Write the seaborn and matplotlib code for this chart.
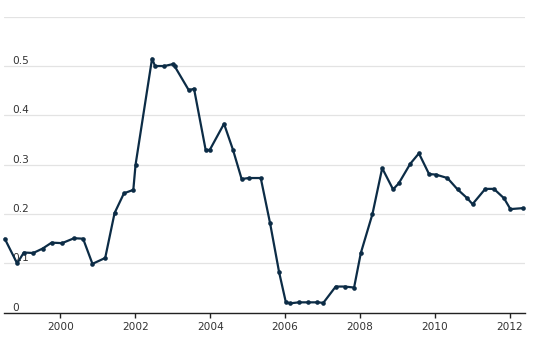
import matplotlib
matplotlib.use("Agg")
import matplotlib.pyplot as plt
import seaborn as sns
import pandas as pd

# Data (decimal year, value)
years = [1998.52, 1998.85, 1999.03, 1999.28, 1999.53, 1999.77, 2000.05, 2000.37,
         2000.61, 2000.86, 2001.20, 2001.45, 2001.70, 2001.95, 2002.01, 2002.45,
         2002.53, 2002.78, 2003.01, 2003.05, 2003.43, 2003.57, 2003.88, 2003.99,
         2004.37, 2004.61, 2004.84, 2005.03, 2005.35, 2005.60, 2005.84, 2006.02,
         2006.13, 2006.37, 2006.61, 2006.86, 2007.02, 2007.35, 2007.59, 2007.84,
         2008.02, 2008.33, 2008.59, 2008.88, 2009.03, 2009.34, 2009.57, 2009.84,
         2010.02, 2010.33, 2010.60, 2010.86, 2011.00, 2011.34, 2011.57, 2011.84,
         2012.01, 2012.35]
values = [0.150, 0.100, 0.122, 0.121, 0.130, 0.142, 0.141, 0.151,
          0.150, 0.099, 0.111, 0.202, 0.242, 0.249, 0.300, 0.515,
          0.500, 0.500, 0.504, 0.500, 0.451, 0.454, 0.330, 0.330,
          0.383, 0.330, 0.271, 0.273, 0.273, 0.181, 0.082, 0.021,
          0.019, 0.021, 0.021, 0.021, 0.020, 0.053, 0.053, 0.051,
          0.121, 0.200, 0.293, 0.250, 0.262, 0.302, 0.323, 0.281,
          0.280, 0.273, 0.250, 0.232, 0.220, 0.251, 0.251, 0.232,
          0.210, 0.212]
y_ticks = [0, 0.1, 0.2, 0.3, 0.4, 0.5, 0.6]
y_labels = ["0", "0.1", "0.2", "0.3", "0.4", "0.5", ""]
x_ticks = [2000, 2002, 2004, 2006, 2008, 2010, 2012]
x_labels = ["2000", "2002", "2004", "2006", "2008", "2010", "2012"]

df = pd.DataFrame({"year": years, "value": values})

sns.set_theme(style="whitegrid", rc={
    "grid.color": "#e3e3e3",
    "grid.linewidth": 0.9,
    "axes.edgecolor": "#333333",
})
plt.rcParams["font.family"] = ["DejaVu Sans"]

W, H = 550, 339
fig = plt.figure(figsize=(W / 100, H / 100), dpi=100)
left, right, top, bottom = 4, 525, 16.7, 312.7
ax = fig.add_axes([left / W, (H - bottom) / H, (right - left) / W, (bottom - top) / H])

line_color = "#0c2c46"
sns.lineplot(data=df, x="year", y="value", ax=ax, color=line_color,
             linewidth=1.6, solid_joinstyle="round", solid_capstyle="round",
             clip_on=False, zorder=3)
sns.scatterplot(data=df, x="year", y="value", ax=ax, color=line_color,
                s=11, linewidth=0, clip_on=False, zorder=4)

ax.set_xlim(1998.5, 2012.4)
ax.set_ylim(0, 0.6)
ax.set_xlabel("")
ax.set_ylabel("")

ax.set_yticks(y_ticks)
ax.set_yticklabels(y_labels)
ax.set_xticks(x_ticks)
ax.set_xticklabels(x_labels)
ax.grid(axis="x", visible=False)
ax.grid(axis="y", visible=True)

for s in ["left", "right", "top"]:
    ax.spines[s].set_visible(False)
ax.spines["bottom"].set_color("#222222")
ax.spines["bottom"].set_linewidth(1.0)

ax.tick_params(axis="x", which="major", bottom=True, direction="out", length=3.5,
               width=1, color="#222222", labelsize=7.6, labelcolor="#333333", pad=3)
ax.tick_params(axis="y", which="major", left=False, length=0, pad=-6.2,
               labelsize=7.6, labelcolor="#333333")
for lab in ax.get_yticklabels():
    lab.set_horizontalalignment("left")
    lab.set_verticalalignment("bottom")

fig.savefig("out.png", dpi=100)
